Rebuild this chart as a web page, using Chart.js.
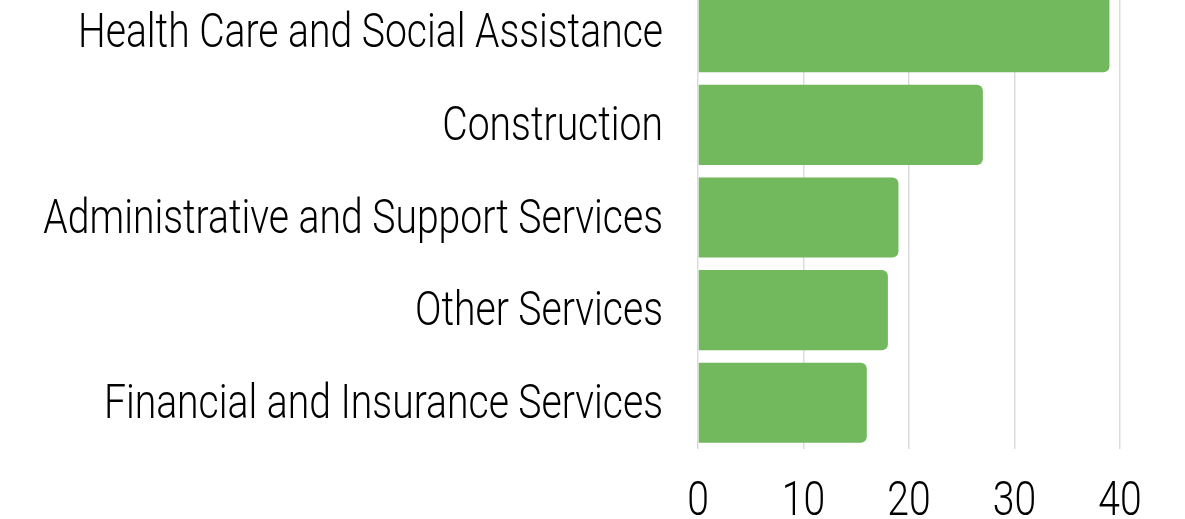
<!DOCTYPE html>
<html>
<head>
<meta charset="utf-8">
<script src="https://cdn.jsdelivr.net/npm/chart.js@4"></script>
<style>
  html, body { margin: 0; padding: 0; background: #fff; overflow: hidden; }
  #wrap { position: absolute; left: 0; top: -14px; width: 1185px; height: 533px; }
</style>
</head>
<body>
<div id="wrap"><canvas id="chart"></canvas></div>
<script>
const categories = [
    'Health Care and Social Assistance',
    'Construction',
    'Administrative and Support Services',
    'Other Services',
    'Financial and Insurance Services'
];
const values = [39, 27, 19, 18, 16];
const tickValues = [0, 10, 20, 30, 40];

const FONT_FAMILY = 'Roboto, "DejaVu Sans Condensed", sans-serif';
const FONT_SIZE = 48;
const FONT_WEIGHT = 300;

// the reference uses a condensed face; squeeze the tick text horizontally
const probe = document.createElement('canvas').getContext('2d');
probe.font = FONT_WEIGHT + ' ' + FONT_SIZE + 'px ' + FONT_FAMILY;
const squeeze = 585 / probe.measureText(categories[0]).width;

const condensedText = {
    id: 'condensedText',
    beforeDraw(chart) {
        const ctx = chart.ctx;
        const orig = ctx.fillText;
        ctx._origFillText = orig;
        ctx.fillText = function (text, x, y) {
            this.save();
            this.translate(x, y + 3);
            this.scale(squeeze, 1);
            orig.call(this, text, 0, 0);
            this.restore();
        };
    },
    afterDraw(chart) {
        const ctx = chart.ctx;
        if (ctx._origFillText) {
            ctx.fillText = ctx._origFillText;
            delete ctx._origFillText;
        }
    }
};

new Chart(document.getElementById('chart'), {
    type: 'bar',
    data: {
        labels: categories,
        datasets: [{
            data: values,
            backgroundColor: '#72b85c',
            borderRadius: 6,
            borderSkipped: 'start',
            barPercentage: 0.865,
            categoryPercentage: 1
        }]
    },
    plugins: [condensedText],
    options: {
        indexAxis: 'y',
        responsive: true,
        maintainAspectRatio: false,
        animation: false,
        layout: { padding: { left: 0, right: 65, top: 0, bottom: 0 } },
        plugins: { legend: { display: false }, tooltip: { enabled: false } },
        scales: {
            x: {
                min: 0,
                max: 40,
                afterBuildTicks: function (axis) {
                    axis.ticks = tickValues.map(v => ({ value: v }));
                },
                afterFit: function (axis) {
                    axis.height = 70;
                    axis.paddingLeft = 0;
                    axis.paddingRight = 0;
                },
                grid: { color: '#dcdcdc', lineWidth: 1.5, drawTicks: false },
                border: { display: false },
                ticks: {
                    color: '#000',
                    padding: 22,
                    font: { family: FONT_FAMILY, size: FONT_SIZE, weight: FONT_WEIGHT }
                }
            },
            y: {
                afterFit: function (axis) {
                    axis.width = 698;
                    axis.paddingTop = 0;
                    axis.paddingBottom = 0;
                },
                grid: { display: false },
                border: { display: false },
                ticks: {
                    color: '#000',
                    padding: 27,
                    font: { family: FONT_FAMILY, size: FONT_SIZE, weight: FONT_WEIGHT }
                }
            }
        }
    }
});
</script>
</body>
</html>
